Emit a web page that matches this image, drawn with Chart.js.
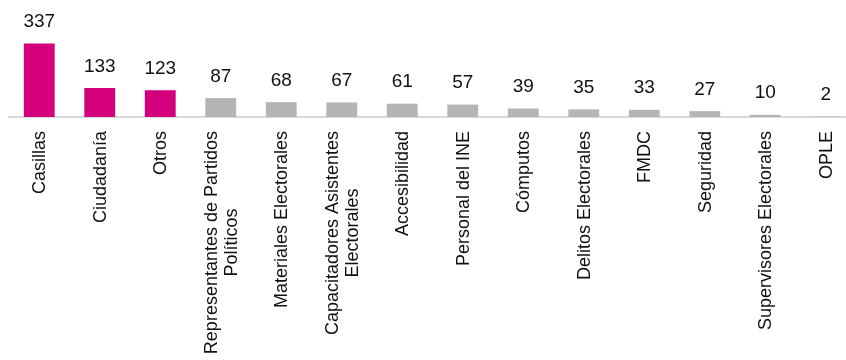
<!DOCTYPE html>
<html>
<head>
<meta charset="utf-8">
<script src="https://cdn.jsdelivr.net/npm/chart.js@4/dist/chart.umd.min.js"></script>
<style>
  html, body { margin: 0; padding: 0; background: #fff; overflow: hidden; }
  #wrap { width: 856px; height: 360px; }
</style>
</head>
<body>
<div id="wrap"><canvas id="barChart"></canvas></div>
<script>
// categories (multi-line labels are arrays)
const categories = [
    'Casillas',
    'Ciudadanía',
    'Otros',
    ['Representantes de Partidos', 'Políticos'],
    'Materiales Electorales',
    ['Capacitadores Asistentes', 'Electorales'],
    'Accesibilidad',
    'Personal del INE',
    'Cómputos',
    'Delitos Electorales',
    'FMDC',
    'Seguridad',
    'Supervisores Electorales',
    'OPLE'
];
const counts = [337, 133, 123, 87, 68, 67, 61, 57, 39, 35, 33, 27, 10, 2];
const highlightCount = 3;  // first bars in magenta

const MAGENTA = '#D5007D';
const GREY = '#B5B5B5';
const FONT = '"Liberation Sans", Arial, sans-serif';

// values above the bars
const valueLabels = {
    id: 'valueLabels',
    afterDatasetsDraw(chart) {
        const ctx = chart.ctx;
        const meta = chart.getDatasetMeta(0);
        ctx.save();
        ctx.font = '19px ' + FONT;
        ctx.fillStyle = '#111';
        ctx.textAlign = 'center';
        ctx.textBaseline = 'alphabetic';
        meta.data.forEach((bar, i) => {
            ctx.fillText(String(counts[i]), bar.x, bar.y - 16.5);
        });
        ctx.restore();
    }
};

// vertical category labels, multi-line centred on each other
const verticalLabels = {
    id: 'verticalLabels',
    afterDraw(chart) {
        const ctx = chart.ctx;
        const xScale = chart.scales.x;
        const top = chart.chartArea.bottom + 14;
        const lineHeight = 20;
        ctx.save();
        ctx.font = '18px ' + FONT;
        ctx.fillStyle = '#111';
        ctx.textAlign = 'center';
        ctx.textBaseline = 'middle';
        categories.forEach((label, i) => {
            const lines = Array.isArray(label) ? label : [label];
            const maxW = Math.max(...lines.map(l => ctx.measureText(l).width));
            const cx = xScale.getPixelForTick(i);
            lines.forEach((line, j) => {
                const off = (j - (lines.length - 1) / 2) * lineHeight;
                ctx.save();
                ctx.translate(cx + off + 1, top);
                ctx.rotate(-Math.PI / 2);
                ctx.fillText(line, -maxW / 2, 0);
                ctx.restore();
            });
        });
        ctx.restore();
    }
};

const ctx = document.getElementById('barChart').getContext('2d');
new Chart(ctx, {
    type: 'bar',
    data: {
        labels: categories,
        datasets: [{
            data: counts,
            backgroundColor: counts.map((v, i) => i < highlightCount ? MAGENTA : GREY),
            categoryPercentage: 1,
            barPercentage: 0.51
        }]
    },
    options: {
        responsive: true,
        maintainAspectRatio: false,
        animation: false,
        layout: { padding: { left: 9, right: 0, top: 0, bottom: 0 } },
        scales: {
            x: {
                grid: { display: false },
                ticks: { display: false },
                border: { display: true, color: '#D9D9D9', width: 2 },
                afterFit: (scale) => { scale.height = 243; }
            },
            y: {
                display: false,
                min: 0,
                max: 537
            }
        },
        plugins: {
            legend: { display: false },
            tooltip: { enabled: false }
        }
    },
    plugins: [valueLabels, verticalLabels]
});
</script>
</body>
</html>
